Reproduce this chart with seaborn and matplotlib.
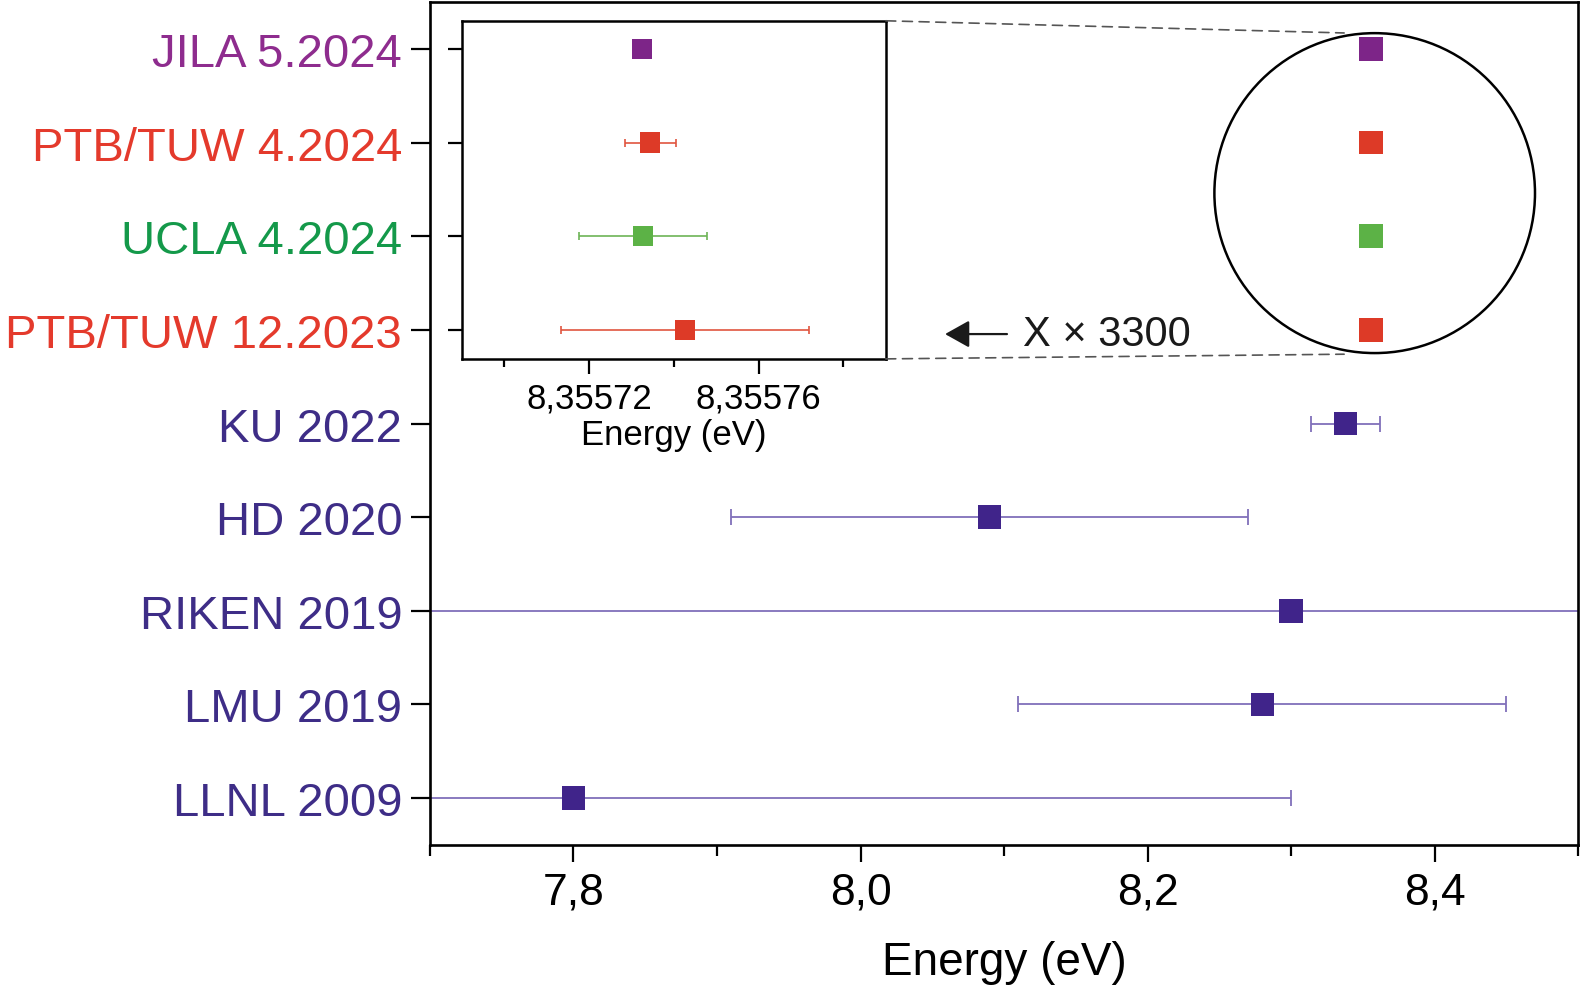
import numpy as np
import pandas as pd
import matplotlib
matplotlib.use('Agg')
import matplotlib.pyplot as plt
from matplotlib.patches import Ellipse, ConnectionPatch
from matplotlib.ticker import FixedLocator, FuncFormatter
import seaborn as sns

# measurements, bottom row first
labels = ['LLNL 2009', 'LMU 2019', 'RIKEN 2019', 'HD 2020', 'KU 2022',
          'PTB/TUW 12.2023', 'UCLA 4.2024', 'PTB/TUW 4.2024', 'JILA 5.2024']
energy = [7.80, 8.28, 8.30, 8.09, 8.338,
          8.3557426, 8.3557327, 8.3557344, 8.3557325]
uncert = [0.50, 0.17, 0.92, 0.18, 0.024,
          0.0000292, 0.0000152, 0.0000060, 0.0]
group = ['old', 'old', 'old', 'old', 'old', 'ptb', 'ucla', 'ptb', 'jila']

main_major = [7.8, 8.0, 8.2, 8.4]
main_minor = [7.7, 7.9, 8.1, 8.3, 8.5]
inset_major = [8.35572, 8.35576]
inset_minor = [8.35570, 8.35574, 8.35578]
zoom_text = 'X × 3300'

label_col = {'old': '#3e2d87', 'ptb': '#e43a2c', 'ucla': '#14994a', 'jila': '#8e2c8e'}
marker_col = {'old': '#40248a', 'ptb': '#dd3a27', 'ucla': '#5cb246', 'jila': '#7d2588'}
err_col = {'old': '#8070ba', 'ptb': '#e0553f', 'ucla': '#6db456', 'jila': '#7d2588'}

df = pd.DataFrame({'label': labels, 'energy': energy, 'err': uncert,
                   'group': group, 'row': np.arange(len(labels))})

sns.set_theme(style='ticks')
plt.rcParams['font.family'] = ['Liberation Sans', 'DejaVu Sans']

fig = plt.figure(figsize=(15.82, 9.87), dpi=100)
ax = fig.add_axes([0.2718, 0.1429, 0.7257, 0.854])

for _, r in df.iterrows():
    ax.errorbar(r['energy'], r['row'], xerr=r['err'], fmt='none',
                ecolor=err_col[r['group']], elinewidth=1.3, capsize=6, capthick=1.3, zorder=2)
sns.scatterplot(data=df, x='energy', y='row', hue='group', palette=marker_col,
                marker='s', s=285, linewidth=0, legend=False, ax=ax, zorder=3)

ax.set_xlim(7.7, 8.5)
ax.set_ylim(-0.5, 8.5)
ax.xaxis.set_major_locator(FixedLocator(main_major))
ax.xaxis.set_minor_locator(FixedLocator(main_minor))
ax.xaxis.set_major_formatter(FuncFormatter(lambda v, p: f'{v:.1f}'.replace('.', ',')))
ax.set_yticks(df['row'])
ax.set_yticklabels(df['label'])
for tl, g in zip(ax.get_yticklabels(), df['group']):
    tl.set_color(label_col[g])
ax.tick_params(axis='y', which='major', length=14, width=1.6, labelsize=34, pad=6, color='black')
ax.tick_params(axis='x', which='major', length=12, width=1.6, labelsize=32, pad=7,
               color='black', labelcolor='black')
ax.tick_params(axis='x', which='minor', length=8, width=1.6, color='black')
ax.set_xlabel('Energy (eV)', fontsize=33, labelpad=20, color='black')
ax.set_ylabel('')
for s in ax.spines.values():
    s.set_visible(True)
    s.set_linewidth(1.9)
    s.set_color('black')

# zoomed inset
ins = ax.inset_axes([7.7223, 4.69, 0.2953, 3.61], transform=ax.transData)
sub = df[df['group'] != 'old']
for _, r in sub.iterrows():
    if r['err'] > 0:
        ins.errorbar(r['energy'], r['row'], xerr=r['err'], fmt='none',
                     ecolor=err_col[r['group']], elinewidth=1.2, capsize=3, capthick=1.2, zorder=2)
sns.scatterplot(data=sub, x='energy', y='row', hue='group', palette=marker_col,
                marker='s', s=220, linewidth=0, legend=False, ax=ins, zorder=3)
ins.set_xlim(8.35569, 8.35579)
ins.set_ylim(4.69, 8.30)
ins.xaxis.set_major_locator(FixedLocator(inset_major))
ins.xaxis.set_minor_locator(FixedLocator(inset_minor))
ins.xaxis.set_major_formatter(FuncFormatter(lambda v, p: f'{v:.5f}'.replace('.', ',')))
ins.set_yticks(sub['row'])
ins.set_yticklabels([])
ins.tick_params(axis='y', which='major', length=10, width=1.6, color='black')
ins.tick_params(axis='x', which='major', length=11, width=1.6, labelsize=25, pad=5,
                color='black', labelcolor='black')
ins.tick_params(axis='x', which='minor', length=6, width=1.6, color='black')
ins.set_xlabel('Energy (eV)', fontsize=25, labelpad=3, color='black')
ins.set_ylabel('')
for s in ins.spines.values():
    s.set_visible(True)
    s.set_linewidth(1.8)
    s.set_color('black')

# circle around the new points and dashed guides to the inset
ax.add_patch(Ellipse((8.3583, 6.46), 0.2234, 3.416, fill=False, lw=1.8, ec='black', zorder=1))
for ya, yb in [(1, 8.17), (0, 4.74)]:
    cp = ConnectionPatch(xyA=(1, ya), coordsA=ins.transAxes, xyB=(8.337, yb), coordsB=ax.transData,
                         ls=(0, (6, 4)), lw=1.2, color='#555555')
    fig.add_artist(cp)

ax.annotate('', xy=(8.057, 4.955), xytext=(8.104, 4.955),
            arrowprops=dict(arrowstyle='-|>,head_length=0.5,head_width=0.28', mutation_scale=30,
                            lw=1.6, color='#1a1a1a'))
ax.text(8.113, 4.955, zoom_text, fontsize=30, va='center', ha='left', color='#1a1a1a')

fig.savefig('out.png', dpi=100)
